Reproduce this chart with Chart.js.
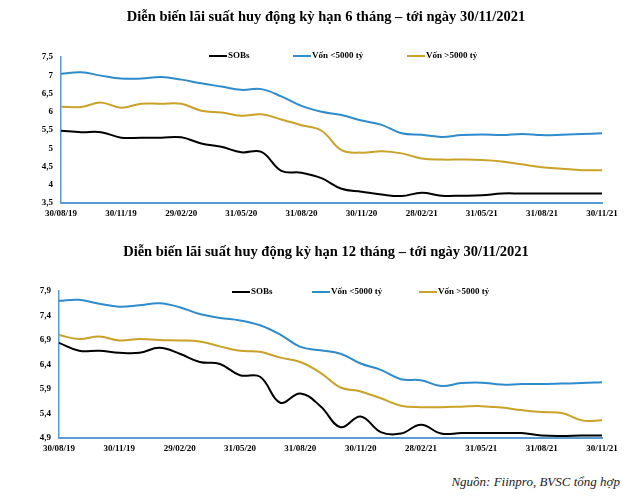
<!DOCTYPE html>
<html>
<head>
<meta charset="utf-8">
<script src="https://cdn.jsdelivr.net/npm/chart.js@4"></script>
<style>
    body { margin: 0; background: #fff; width: 640px; height: 497px; position: relative; overflow: hidden; }
    .box { position: absolute; left: 0; width: 640px; }
    .title { position: absolute; left: 326px; transform: translateX(-50%); white-space: nowrap;
             font: bold 14.5px/18px 'Liberation Serif', serif; color: #000; }
    #note { position: absolute; right: 20px; top: 474px; font: italic 13px/16px 'Liberation Serif', serif; color: #222; }
</style>
</head>
<body>
<div class="box" style="top:0;height:228px"><canvas id="chart6"></canvas></div>
<div class="box" style="top:228px;height:240px"><canvas id="chart12"></canvas></div>
<div class="title" style="top:7px">Diễn biến lãi suất huy động kỳ hạn 6 tháng – tới ngày 30/11/2021</div>
<div class="title" style="top:242px">Diễn biến lãi suất huy động kỳ hạn 12 tháng – tới ngày 30/11/2021</div>
<div id="note">Nguồn: Fiinpro, BVSC tổng hợp</div>
<script>
// month-end dates, 30/08/19 -> 30/11/21
const labels = [
    '30/08/19', '30/09/19', '31/10/19', '30/11/19', '31/12/19', '31/01/20', '29/02/20',
    '31/03/20', '30/04/20', '31/05/20', '30/06/20', '31/07/20', '31/08/20', '30/09/20',
    '31/10/20', '30/11/20', '31/12/20', '31/01/21', '28/02/21', '31/03/21', '30/04/21',
    '31/05/21', '30/06/21', '31/07/21', '31/08/21', '30/09/21', '31/10/21', '30/11/21'
];
const seriesNames = ['SOBs', 'Vốn <5000 tỷ', 'Vốn >5000 tỷ'];

// 6 month term
const sobs6 = [5.48, 5.44, 5.44, 5.29, 5.29, 5.29, 5.30, 5.13, 5.04, 4.89, 4.90, 4.38, 4.33, 4.18,
    3.89, 3.81, 3.73, 3.69, 3.78, 3.70, 3.70, 3.71, 3.76, 3.76, 3.76, 3.76, 3.76, 3.76];
const small6 = [7.04, 7.08, 6.99, 6.91, 6.91, 6.95, 6.88, 6.78, 6.69, 6.60, 6.62, 6.42, 6.16, 6.00,
    5.91, 5.76, 5.64, 5.41, 5.37, 5.31, 5.36, 5.38, 5.36, 5.39, 5.36, 5.37, 5.39, 5.41];
const large6 = [6.14, 6.13, 6.25, 6.11, 6.22, 6.22, 6.22, 6.03, 5.98, 5.89, 5.93, 5.79, 5.63, 5.48,
    4.95, 4.88, 4.92, 4.86, 4.72, 4.69, 4.69, 4.68, 4.64, 4.56, 4.48, 4.44, 4.40, 4.40];
const ticks6 = [3.5, 4, 4.5, 5, 5.5, 6, 6.5, 7, 7.5];

// 12 month term
const sobs12 = [6.84, 6.68, 6.68, 6.64, 6.64, 6.74, 6.62, 6.45, 6.41, 6.18, 6.15, 5.62, 5.81, 5.55,
    5.12, 5.34, 5.02, 4.99, 5.17, 4.99, 5.00, 5.00, 5.00, 5.00, 4.95, 4.94, 4.95, 4.95];
const small12 = [7.70, 7.72, 7.64, 7.58, 7.61, 7.65, 7.57, 7.43, 7.35, 7.30, 7.20, 7.01, 6.76, 6.69,
    6.62, 6.42, 6.29, 6.10, 6.08, 5.96, 6.02, 6.03, 5.99, 6.00, 6.00, 6.01, 6.02, 6.04];
const large12 = [7.00, 6.92, 6.97, 6.89, 6.92, 6.90, 6.89, 6.87, 6.77, 6.68, 6.66, 6.54, 6.45, 6.23,
    5.93, 5.85, 5.71, 5.56, 5.53, 5.53, 5.54, 5.55, 5.52, 5.47, 5.43, 5.41, 5.26, 5.26];
const ticks12 = [4.9, 5.4, 5.9, 6.4, 6.9, 7.4, 7.9];

const colors = ['#000000', '#2e8bcc', '#c9a227'];
const axisColor = '#5b9bd5';
const serif = "'Liberation Serif', 'Times New Roman', serif";

// legend drawn inside the plot, at the height of the top tick
const lineLegend = {
    id: 'lineLegend',
    afterDraw(chart, args, opts) {
        const ctx = chart.ctx;
        ctx.save();
        ctx.font = 'bold 9px ' + serif;
        ctx.textBaseline = 'middle';
        chart.data.datasets.forEach((ds, i) => {
            const x = opts.xs[i];
            ctx.strokeStyle = ds.borderColor;
            ctx.lineWidth = 2;
            ctx.beginPath();
            ctx.moveTo(x, opts.y);
            ctx.lineTo(x + 18, opts.y);
            ctx.stroke();
            ctx.fillStyle = '#000';
            ctx.fillText(ds.label, x + 19, opts.y);
        });
        ctx.restore();
    }
};

function makeChart(id, data, yTicks, o) {
    new Chart(document.getElementById(id), {
        type: 'line',
        data: {
            labels: labels,
            datasets: data.map((d, i) => ({
                label: seriesNames[i],
                data: d,
                borderColor: colors[i],
                borderWidth: 2,
                pointRadius: 0,
                tension: 0.4,
                fill: false
            }))
        },
        options: {
            responsive: true,
            maintainAspectRatio: false,
            animation: false,
            layout: { padding: { left: 0, right: 38, top: o.top, bottom: o.bottom } },
            plugins: {
                legend: { display: false },
                tooltip: { enabled: false },
                lineLegend: { xs: o.legendXs, y: o.legendY }
            },
            scales: {
                x: {
                    afterFit: (s) => { s.height = 20; },
                    grid: { display: false, drawTicks: false },
                    border: { color: axisColor, width: 2 },
                    ticks: {
                        autoSkip: false,
                        maxRotation: 0,
                        padding: 5,
                        color: '#000',
                        font: { family: serif, size: 9, weight: 'bold' },
                        callback: function (v, i) { return i % 3 === 0 ? this.getLabelForValue(v) : ''; }
                    }
                },
                y: {
                    min: yTicks[0],
                    max: yTicks[yTicks.length - 1],
                    afterBuildTicks: (s) => { s.ticks = yTicks.map(v => ({ value: v })); },
                    afterFit: (s) => { s.width = o.yWidth; },
                    grid: { display: false, drawTicks: false },
                    border: { color: axisColor, width: 1.5 },
                    ticks: {
                        padding: 8,
                        color: '#000',
                        font: { family: serif, size: 9, weight: 'bold' },
                        callback: (v) => String(v).replace('.', ',')
                    }
                }
            }
        },
        plugins: [lineLegend]
    });
}

makeChart('chart6', [sobs6, small6, large6], ticks6,
    { top: 57, bottom: 5, legendXs: [209, 293, 407], legendY: 56, yWidth: 61 });

makeChart('chart12', [sobs12, small12, large12], ticks12,
    { top: 63, bottom: 10, legendXs: [232, 312, 419], legendY: 64, yWidth: 59 });
</script>
</body>
</html>
